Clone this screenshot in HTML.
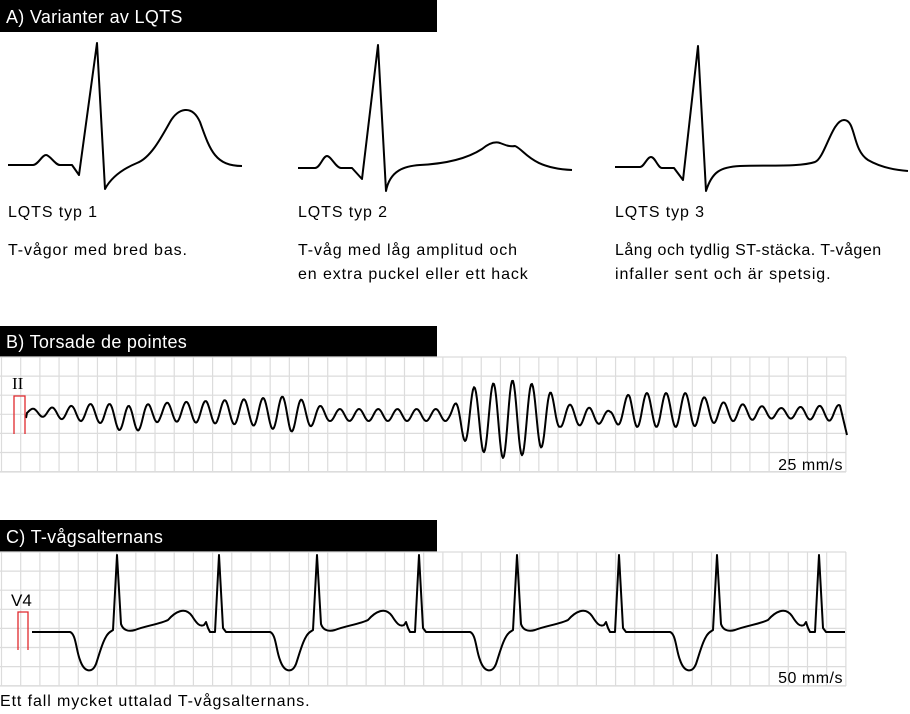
<!DOCTYPE html>
<html><head><meta charset="utf-8"><style>
body{margin:0;width:910px;height:714px;background:#fff;overflow:hidden;font-family:"Liberation Sans",sans-serif;}
svg{position:absolute;left:0;top:0}
</style></head><body>
<svg id="s" width="910" height="714" viewBox="0 0 910 714" xmlns="http://www.w3.org/2000/svg">
<rect x="0" y="0" width="437" height="32" fill="#000"/>
<text x="6" y="23" font-size="18" fill="#fff" letter-spacing="0.3" font-family="Liberation Sans, sans-serif">A) Varianter av LQTS</text>
<rect x="0" y="326" width="437" height="31" fill="#000"/>
<text x="6" y="348" font-size="18" fill="#fff" letter-spacing="0.3" font-family="Liberation Sans, sans-serif">B) Torsade de pointes</text>
<rect x="0" y="520" width="437" height="32" fill="#000"/>
<text x="6" y="543" font-size="18" fill="#fff" letter-spacing="0.3" font-family="Liberation Sans, sans-serif">C) T-vågsalternans</text>
<g id="grid" stroke="#dcdcdc" stroke-width="1.2" fill="none"></g>
<g fill="none" stroke="#000" stroke-width="2" stroke-linejoin="round">
<path d="M8 165 L33 165 C38 165 42 155 46 155 C50 155 55 165 60 165 L72 165 L79 175 L97 43 L105 189 C112 176 125 168 137 163 C150 158 160 140 170 122 C178 108 192 104 200 122 C210 150 215 166 242 166"/>
<path d="M298 168 L315 168 C320 168 323 156 327 156 C331 156 336 168 341 168 L352 168 L362 179 L378 45 L386 191 C390 170 405 166 420 165 C440 164 465 160 482 149 C488 144 494 141 500 143 C505 145 510 147 515 146 C525 150 530 168 572 170"/>
<path d="M615 167 L640 167 C644 167 647 157 651 157 C655 157 658 168 662 168 L674 168 L683 180 L698 46 L706 191 C712 172 720 167 740 166 C770 165 800 167 815 162 C825 158 832 120 844 120 C856 120 852 150 868 160 C880 167 895 170 908 171"/>
<path id="tdp"/>
<path id="ta"/>
</g>
<path d="M14 434 L14 396 L25 396 L25 434" fill="none" stroke="#e0282d" stroke-width="1.3"/>
<path d="M18 650 L18 612 L28 612 L28 650" fill="none" stroke="#e0282d" stroke-width="1.3"/>
<text x="12" y="389" font-size="17" font-family="Liberation Serif, serif">II</text>
<text x="11" y="606" font-size="17">V4</text>
<g font-size="16" fill="#000" letter-spacing="0.9">
<text x="8" y="217">LQTS typ 1</text>
<text x="8" y="255">T-vågor med bred bas.</text>
<text x="298" y="217">LQTS typ 2</text>
<text x="298" y="255">T-våg med låg amplitud och</text>
<text x="298" y="279">en extra puckel eller ett hack</text>
<text x="615" y="217">LQTS typ 3</text>
<text x="615" y="255" letter-spacing="0.5">Lång och tydlig ST-stäcka. T-vågen</text>
<text x="615" y="279">infaller sent och är spetsig.</text>
<text x="843" y="470" text-anchor="end" letter-spacing="0.5">25 mm/s</text>
<text x="843" y="683" text-anchor="end" letter-spacing="0.5">50 mm/s</text>
<text x="0" y="706">Ett fall mycket uttalad T-vågsalternans.</text>
</g>
</svg>
<script>
var ns="http://www.w3.org/2000/svg",g=document.getElementById("grid");
function ln(x1,y1,x2,y2){var l=document.createElementNS(ns,"line");l.setAttribute("x1",x1);l.setAttribute("y1",y1);l.setAttribute("x2",x2);l.setAttribute("y2",y2);g.appendChild(l);}
var sp=19.19;
[[357,472],[552,686]].forEach(function(b){
 for(var i=0;i<=44;i++){var x=1.5+i*sp;ln(x,b[0],x,b[1]);}
 for(var y=b[0];y<=b[1]+1;y+=19.1)ln(0,y,846,y);
 ln(0,b[1],846,b[1]);
});
var env=[[28,3,412],[60,6,413],[100,10,413],[130,14,420],[160,9,412],[250,13,412],[290,18,414],[330,6,415],[450,6,415],[470,30,418],[510,40,420],[545,30,416],[560,12,415],[610,6,417],[630,17,410],[690,17,410],[720,10,412],[780,5,413],[835,8,413]];
function iv(x){for(var i=0;i<env.length-1;i++){if(x<=env[i+1][0]){var t=(x-env[i][0])/(env[i+1][0]-env[i][0]);return[env[i][1]+t*(env[i+1][1]-env[i][1]),env[i][2]+t*(env[i+1][2]-env[i][2])];}}return[env[env.length-1][1],env[env.length-1][2]];}
var d="M26 418";
for(var x=27;x<=840;x+=1){var e=iv(x);var y=e[1]-e[0]*Math.sin((x-28)/sp*2*Math.PI);d+=" L"+x+" "+y.toFixed(1);}
d+=" L847 435";
document.getElementById("tdp").setAttribute("d",d);
var a="M32 632";
for(var k=0;k<4;k++){var o=200*k;function p(x){return (x+o)}
 a+=" L"+p(70)+" 632 C"+p(76)+" 634 "+p(76)+" 650 "+p(80)+" 660 C"+p(84)+" 672 "+p(92)+" 674 "+p(96)+" 664 C"+p(100)+" 652 "+p(104)+" 636 "+p(110)+" 632 L"+p(113)+" 630 L"+p(117)+" 555 L"+p(121)+" 624 C"+p(123)+" 630 "+p(128)+" 632 "+p(135)+" 630 C"+p(145)+" 626 "+p(160)+" 624 "+p(168)+" 620 C"+p(175)+" 612 "+p(185)+" 606 "+p(192)+" 616 C"+p(197)+" 624 "+p(200)+" 627 "+p(204)+" 625 L"+p(206)+" 622 L"+p(208)+" 628 L"+p(210)+" 632 L"+p(215)+" 632 L"+p(219)+" 555 L"+p(223)+" 628 L"+p(226)+" 632";}
a+=" L845 632";
document.getElementById("ta").setAttribute("d",a);
</script>
</body></html>
